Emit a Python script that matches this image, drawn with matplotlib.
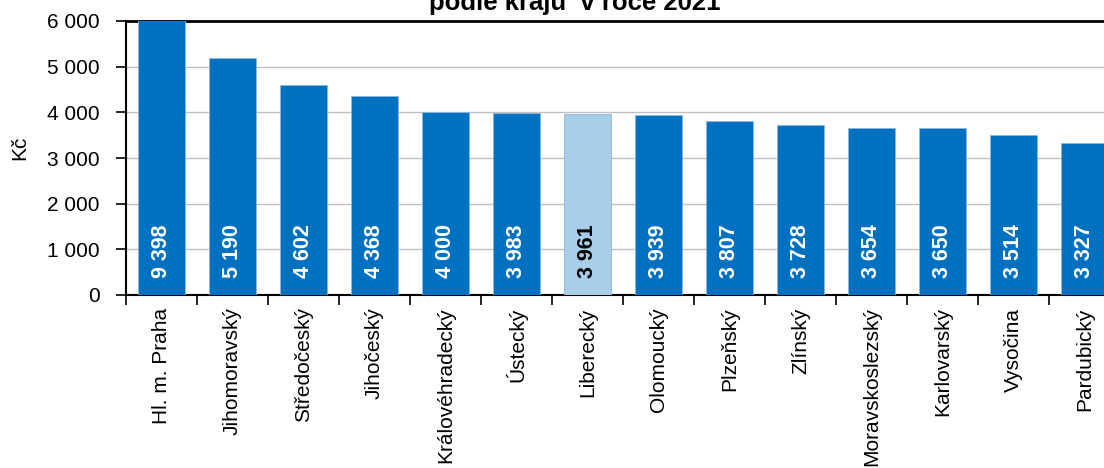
import matplotlib
matplotlib.use("Agg")
import matplotlib.pyplot as plt
import numpy as np
from matplotlib.ticker import FuncFormatter

regions = ["Hl. m. Praha", "Jihomoravský", "Středočeský", "Jihočeský",
           "Královéhradecký", "Ústecký", "Liberecký", "Olomoucký", "Plzeňský",
           "Zlínský", "Moravskoslezský", "Karlovarský", "Vysočina", "Pardubický"]
values = [9398, 5190, 4602, 4368, 4000, 3983, 3961, 3939, 3807,
          3728, 3654, 3650, 3514, 3327]
highlight = "Liberecký"
yticks = [0, 1000, 2000, 3000, 4000, 5000, 6000]

plt.rcParams["font.family"] = ["Liberation Sans", "DejaVu Sans"]

DARK = "#0070C0"
LIGHT = "#A7CDE9"

fig = plt.figure(figsize=(11.04, 4.68), dpi=100)
W, H = 1104, 468
ax = fig.add_axes([126 / W, (H - 295) / H, 994 / W, 274 / H])

x = np.arange(len(regions))
colors = [LIGHT if r == highlight else DARK for r in regions]
ax.bar(x, values, width=0.66, color=colors, edgecolor="#8DB8DE", linewidth=0.6, zorder=3)

for xi, v, r in zip(x, values, regions):
    txt = f"{v:,}".replace(",", " ")
    ax.annotate(txt, (xi, 0), xytext=(0, 12), textcoords="offset points",
                rotation=90, ha="center", va="bottom", fontsize=15.5,
                fontweight="bold", color="black" if r == highlight else "white",
                zorder=4)

ax.set_xlim(-0.5, len(regions) - 0.5)
ax.set_ylim(0, 6000)
ax.set_yticks(yticks)
ax.yaxis.set_major_formatter(FuncFormatter(lambda v, p: f"{int(v):,}".replace(",", " ")))
ax.yaxis.grid(True, color="#BFBFBF", linewidth=1, zorder=0)
ax.set_axisbelow(True)

ax.set_xticks(x)
ax.set_xticklabels(regions, rotation=90, fontsize=15)
ax.set_xticks(np.arange(len(regions) + 1) - 0.5, minor=True)
ax.tick_params(axis="x", which="major", length=0, pad=9)
ax.tick_params(axis="x", which="minor", length=7, width=1.2, direction="out")
ax.tick_params(axis="y", length=7, width=1.2, direction="out", labelsize=15, pad=12)

for s in ["left", "bottom", "top"]:
    ax.spines[s].set_linewidth(1.5)
    ax.spines[s].set_color("black")
ax.spines["top"].set_linewidth(2)
ax.spines["right"].set_visible(False)

fig.text(20 / W, (H - 148) / H, "Kč", rotation=90, ha="center", va="center", fontsize=15)
# first title line lies above the visible area in the source image
fig.text(575 / W, (H - 10) / H, "podle krajů  v roce 2021", ha="center",
         va="baseline", fontsize=18.5, fontweight="bold")

fig.savefig("out.png", dpi=100)
